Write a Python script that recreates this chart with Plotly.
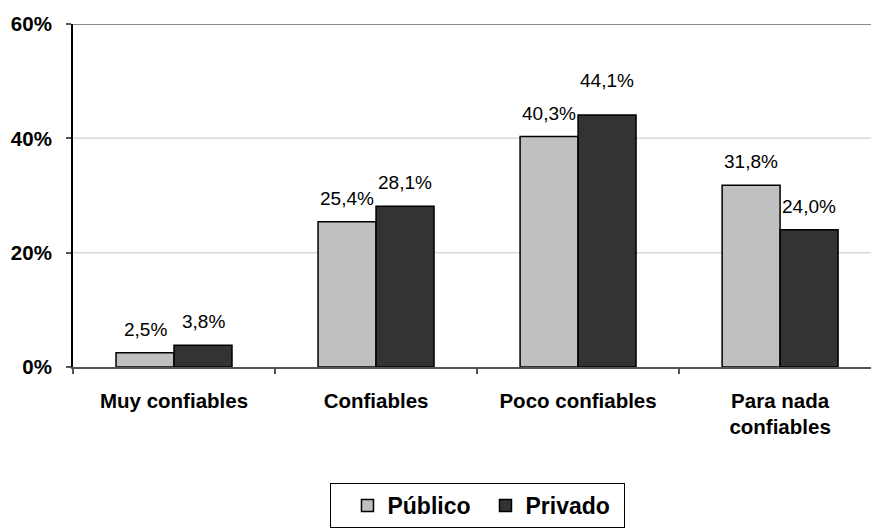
import plotly.graph_objects as go

categories = ["Muy confiables", "Confiables", "Poco confiables", "Para nada<br>confiables"]
publico = [2.5, 25.4, 40.3, 31.8]
privado = [3.8, 28.1, 44.1, 24.0]
tick_vals = [0, 20, 40, 60]
tick_text = ["0%", "20%", "40%", "60%"]

def fmt(v):
    return f"{v:.1f}%".replace(".", ",")

FONT = "Liberation Sans, Arial, sans-serif"

fig = go.Figure()
fig.add_trace(go.Bar(
    name="Público", x=categories, y=publico,
    marker=dict(color="#c0c0c0", line=dict(color="black", width=1.5)),
))
fig.add_trace(go.Bar(
    name="Privado", x=categories, y=privado,
    marker=dict(color="#333333", line=dict(color="black", width=1.5)),
))

# data labels placed above each bar (value coordinates via the axes)
half_bar = 29
for i, cat in enumerate(categories):
    for vals, xs in ((publico, -half_bar), (privado, half_bar)):
        v = vals[i]
        ys = 22 if v > 44 else 11
        fig.add_annotation(
            x=cat, y=v, xref="x", yref="y", text=fmt(v), showarrow=False,
            xshift=xs, yshift=ys, yanchor="bottom", xanchor="center",
            font=dict(family=FONT, size=19, color="black"),
        )

fig.update_layout(
    width=871, height=529,
    margin=dict(l=73, r=0, t=24, b=162, autoexpand=False),
    paper_bgcolor="white", plot_bgcolor="white",
    barmode="group", bargap=0.426, bargroupgap=0,
    font=dict(family=FONT, color="black"),
    showlegend=True,
    legend=dict(
        orientation="h", x=0.507, xanchor="center", y=-0.338, yanchor="top",
        bordercolor="black", borderwidth=1,
        font=dict(size=23, family=FONT, weight="bold"),
        entrywidth=93, entrywidthmode="pixels", traceorder="normal",
        title=dict(text="&nbsp;", side="left", font=dict(size=23)),
    ),
)
fig.update_xaxes(
    range=[-0.5, 3.45], automargin=False,
    showline=True, linecolor="#555555", linewidth=2,
    ticks="outside", tickson="boundaries", ticklen=5, tickcolor="#555555", tickwidth=1.5,
    tickfont=dict(size=20.5, weight="bold", family=FONT),
    ticklabelstandoff=14,
    showgrid=False,
)
fig.update_yaxes(
    range=[0, 60], tickvals=tick_vals, ticktext=tick_text, automargin=False,
    showline=True, linecolor="black", linewidth=2,
    ticks="outside", ticklen=5, tickcolor="#555555", tickwidth=1.5,
    tickfont=dict(size=20.5, weight="bold", family=FONT),
    ticklabelstandoff=10,
    showgrid=False, zeroline=False,
)
# horizontal gridlines (reaching the right edge) and darker top line at 60%
for tv in tick_vals[1:]:
    top = tv == tick_vals[-1]
    fig.add_shape(type="line", xref="paper", yref="y", x0=0, x1=1.05, y0=tv, y1=tv,
                  layer="below",
                  line=dict(color="#888888" if top else "#d9d9d9", width=2 if top else 1.5))

fig.write_html(
    "out.html",
    config=dict(displayModeBar=False),
    post_script=(
        "document.body.style.margin='0';"
        "document.body.style.overflow='hidden';"
        "document.documentElement.style.overflow='hidden';"
    ),
)
